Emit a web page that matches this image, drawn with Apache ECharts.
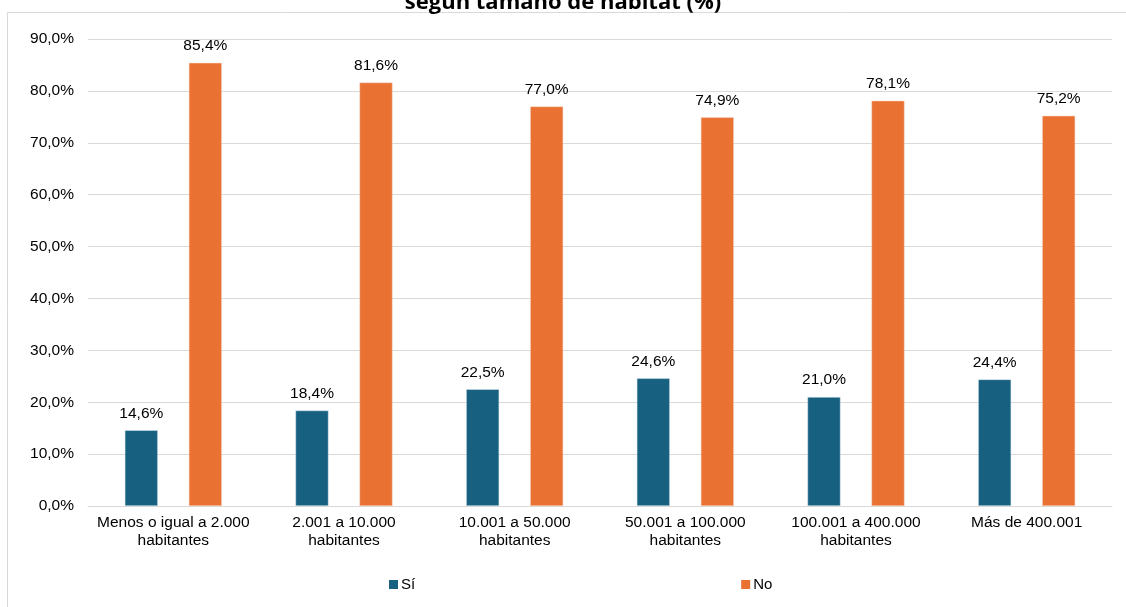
<!DOCTYPE html>
<html>
<head>
<meta charset="utf-8">
<script src="https://cdn.jsdelivr.net/npm/echarts@6/dist/echarts.min.js"></script>
<style>
html,body{margin:0;padding:0;background:#fff;}
#chart{width:1126px;height:607px;}
</style>
</head>
<body>
<div id="chart"></div>
<script>
// datos
var categorias = ['Menos o igual a 2.000\nhabitantes','2.001 a 10.000\nhabitantes','10.001 a 50.000\nhabitantes','50.001 a 100.000\nhabitantes','100.001 a 400.000\nhabitantes','Más de 400.001'];
var valores_si = [14.6, 18.4, 22.5, 24.6, 21.0, 24.4];
var valores_no = [85.4, 81.6, 77.0, 74.9, 78.1, 75.2];

function fmt(v){
	return v.toFixed(1).replace('.', ',') + '%';
}

var myChart = echarts.init(document.getElementById('chart'));
var option = {
	animation: false,
	textStyle: { fontFamily: 'Liberation Sans, Arial, sans-serif' },
	title: {
		text: 'según tamaño de hábitat (%)',
		left: 'center',
		top: -13,
		textStyle: { fontFamily: 'Open Sans', fontWeight: 'bold', fontSize: 22, color: '#000' }
	},
	graphic: [{
		type: 'rect',
		shape: { x: 7.5, y: 12.5, width: 1130, height: 610 },
		style: { fill: null, stroke: '#d9d9d9', lineWidth: 1 },
		z: -1
	}],
	grid: { left: 88, right: 14, top: 39, bottom: 101 },
	legend: {
		data: ['Sí', 'No'],
		bottom: 10,
		left: 384,
		itemGap: 326,
		itemWidth: 9,
		itemHeight: 9,
		icon: 'rect',
		itemStyle: { borderWidth: 0 },
		textStyle: { fontSize: 15, color: '#000', padding: [0, 0, 0, -2] }
	},
	xAxis: {
		type: 'category',
		data: categorias,
		axisLine: { lineStyle: { color: '#d9d9d9' } },
		axisTick: { show: false },
		axisLabel: { color: '#000', fontSize: 15.5, lineHeight: 18, interval: 0, margin: 8 }
	},
	yAxis: {
		type: 'value',
		min: 0,
		max: 90,
		interval: 10,
		axisLine: { show: false },
		axisTick: { show: false },
		splitLine: { lineStyle: { color: '#d9d9d9' } },
		axisLabel: { color: '#000', fontSize: 15.5, margin: 14, formatter: function(v){ return fmt(v); } }
	},
	series: [
		{
			name: 'Sí',
			type: 'bar',
			data: valores_si,
			barWidth: 33,
			barGap: '94%',
			itemStyle: { color: '#17607f', borderColor: '#dbe9f0', borderWidth: 0.5 },
			label: { show: true, position: 'top', distance: 9, color: '#000', fontSize: 15.5, formatter: function(p){ return fmt(p.value); } }
		},
		{
			name: 'No',
			type: 'bar',
			data: valores_no,
			barWidth: 33,
			itemStyle: { color: '#e97132', borderColor: '#f7d9c8', borderWidth: 0.5 },
			label: { show: true, position: 'top', distance: 9, color: '#000', fontSize: 15.5, formatter: function(p){ return fmt(p.value); } }
		}
	]
};
myChart.setOption(option);
</script>
</body>
</html>
